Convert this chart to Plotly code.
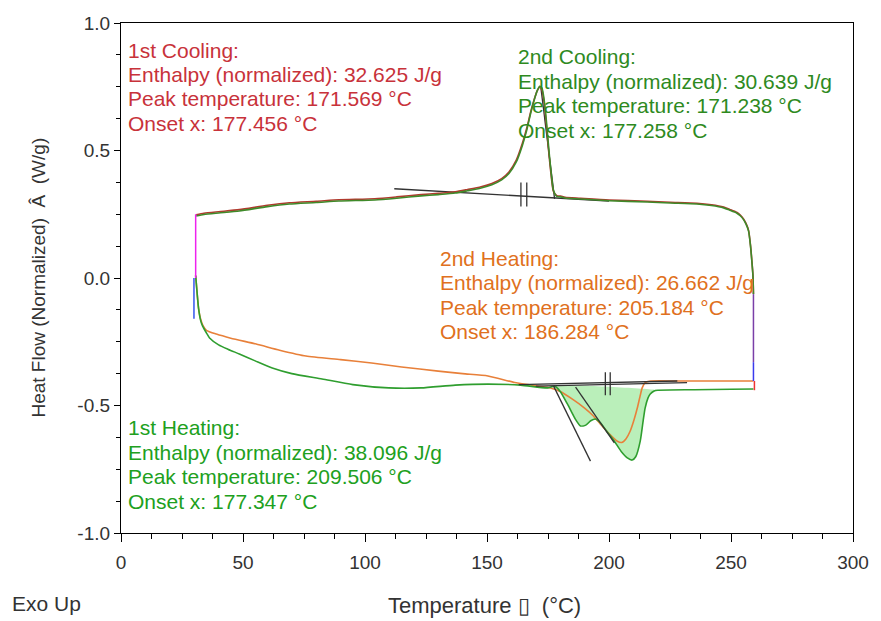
import plotly.graph_objects as go

# ---- DSC curves: temperature (°C) vs normalized heat flow (W/g) ----
cool_T = [259.2, 259.0, 258.6, 258.0, 257.2, 256.2, 255.2, 253.8, 252.3, 249.5, 247.0,
          242.0, 236.0, 225.0, 215.6, 200.0, 188.3, 182.0, 180.2, 178.6, 177.2, 176.2,
          175.2, 174.3, 173.4, 172.5, 171.6, 170.6, 169.4, 168.0, 166.3, 164.5, 162.0,
          159.0, 156.0, 152.0, 147.6, 142.0, 137.0, 130.0, 123.0, 113.0, 104.0, 89.3,
          80.0, 69.0, 60.0, 48.5, 40.0, 34.0, 30.8]
cool_2_hf = [-0.063, 0.008, 0.059, 0.125, 0.184, 0.210, 0.228, 0.244, 0.255, 0.266, 0.275,
             0.284, 0.290, 0.294, 0.298, 0.303, 0.310, 0.314, 0.318, 0.320, 0.345, 0.420,
             0.520, 0.620, 0.700, 0.745, 0.752, 0.735, 0.700, 0.650, 0.580, 0.520, 0.455,
             0.410, 0.385, 0.366, 0.353, 0.342, 0.333, 0.327, 0.322, 0.313, 0.306, 0.302,
             0.296, 0.290, 0.280, 0.263, 0.255, 0.249, 0.243]
cool_1_hf = [-0.063, 0.010, 0.062, 0.128, 0.187, 0.213, 0.231, 0.247, 0.258, 0.269, 0.278,
             0.287, 0.293, 0.297, 0.301, 0.306, 0.313, 0.317, 0.321, 0.323, 0.340, 0.410,
             0.505, 0.605, 0.690, 0.738, 0.748, 0.735, 0.702, 0.655, 0.588, 0.528, 0.462,
             0.416, 0.390, 0.371, 0.358, 0.347, 0.338, 0.332, 0.327, 0.318, 0.311, 0.307,
             0.301, 0.295, 0.285, 0.268, 0.260, 0.254, 0.248]

heat_1_T = [30.6, 31.2, 31.8, 32.6, 33.5, 35.0, 36.3, 40.0, 44.0, 48.5, 55.0, 62.0, 70.0,
            82.4, 95.0, 109.7, 123.0, 137.0, 150.4, 163.8, 174.8, 177.7, 180.0, 183.0,
            186.0, 188.3, 190.5, 192.5, 194.4, 196.5, 199.0, 202.2, 205.0, 207.5, 209.5,
            211.0, 212.8, 214.0, 214.8, 216.0, 216.9, 218.5, 220.0, 235.0, 250.0, 259.2]
heat_1_hf = [0.010, -0.060, -0.120, -0.165, -0.190, -0.215, -0.235, -0.262, -0.280, -0.298,
             -0.325, -0.353, -0.375, -0.396, -0.418, -0.431, -0.431, -0.420, -0.416, -0.420,
             -0.431, -0.424, -0.445, -0.495, -0.550, -0.580, -0.577, -0.560, -0.553, -0.568,
             -0.600, -0.640, -0.680, -0.705, -0.714, -0.700, -0.640, -0.560, -0.510, -0.470,
             -0.455, -0.443, -0.440, -0.438, -0.436, -0.435]

heat_2_T = [30.6, 31.2, 31.8, 32.6, 33.5, 35.0, 39.1, 45.0, 55.4, 65.0, 75.8, 90.0, 102.7,
            115.0, 130.0, 140.0, 150.4, 161.4, 170.8, 176.0, 180.0, 185.0, 190.0, 193.5,
            196.5, 200.0, 203.4, 205.2, 207.0, 208.7, 210.3, 211.6, 212.7, 213.6, 214.8,
            217.0, 230.0, 245.0, 259.2]
heat_2_hf = [0.010, -0.060, -0.120, -0.160, -0.185, -0.205, -0.220, -0.236, -0.259, -0.283,
             -0.306, -0.320, -0.333, -0.349, -0.365, -0.375, -0.384, -0.410, -0.424, -0.431,
             -0.445, -0.475, -0.510, -0.540, -0.573, -0.610, -0.640, -0.645, -0.630, -0.600,
             -0.555, -0.510, -0.465, -0.431, -0.410, -0.404, -0.404, -0.404, -0.404]

# isothermal segments at both ends of the temperature program
iso_low_T = [30.6, 30.6]
iso_low_hf = [0.250, 0.000]
iso_low2_T = [29.9, 29.9]
iso_low2_hf = [0.000, -0.160]
iso_high_T = [259.2, 259.2]
iso_high_hf = [-0.063, -0.330]
iso_high2_T = [259.2, 259.2]
iso_high2_hf = [-0.330, -0.404]
iso_high3_T = [259.6, 259.6]
iso_high3_hf = [-0.404, -0.440]

# integration baselines, onset tangents and limit markers
cool_base_T = [112.0, 200.0]
cool_base_hf = [0.350, 0.302]
cool_tan_T = [172.0, 177.7]
cool_tan_hf = [0.753, 0.310]
cool_mark1_T = [163.9, 163.9]
cool_mark2_T = [166.3, 166.3]
cool_mark_hf = [0.375, 0.280]

heat_base1_T = [163.0, 228.0]
heat_base1_hf = [-0.418, -0.404]
heat_base2_T = [170.0, 232.0]
heat_base2_hf = [-0.424, -0.410]
heat_tan1_T = [177.3, 192.4]
heat_tan1_hf = [-0.424, -0.718]
heat_tan2_T = [186.3, 202.2]
heat_tan2_hf = [-0.428, -0.647]
heat_mark1_T = [198.5, 198.5]
heat_mark2_T = [200.5, 200.5]
heat_mark_hf = [-0.370, -0.460]

# peak results
labels_1st_cooling = ["1st Cooling:", "Enthalpy (normalized): 32.625 J/g",
                      "Peak temperature: 171.569 °C", "Onset x: 177.456 °C"]
labels_2nd_cooling = ["2nd Cooling:", "Enthalpy (normalized): 30.639 J/g",
                      "Peak temperature: 171.238 °C", "Onset x: 177.258 °C"]
labels_2nd_heating = ["2nd Heating:", "Enthalpy (normalized): 26.662 J/g",
                      "Peak temperature: 205.184 °C", "Onset x: 186.284 °C"]
labels_1st_heating = ["1st Heating:", "Enthalpy (normalized): 38.096 J/g",
                      "Peak temperature: 209.506 °C", "Onset x: 177.347 °C"]

x_ticks = [0, 50, 100, 150, 200, 250, 300]
y_ticks = [-1.0, -0.5, 0.0, 0.5, 1.0]

FONT = "Liberation Sans, Arial, sans-serif"
C_HEAT1 = "#2f9e2f"
C_HEAT2 = "#e8803a"
C_COOL1 = "#b03a2e"
C_COOL2 = "#3f8a2a"
C_FILL = "rgba(130,225,130,0.55)"

fig = go.Figure()


def line(x, y, color, width=1.6):
    fig.add_trace(go.Scatter(x=x, y=y, mode="lines", hoverinfo="skip",
                             line=dict(color=color, width=width, shape="spline",
                                       smoothing=0.6)))


# shaded melting area of the 1st heating
i0 = heat_1_T.index(177.7)
i1 = heat_1_T.index(220.0)
fill_T = heat_1_T[i0:i1 + 1] + [heat_1_T[i0]]
fill_hf = heat_1_hf[i0:i1 + 1] + [heat_1_hf[i0]]
fig.add_trace(go.Scatter(x=fill_T, y=fill_hf, mode="lines", fill="toself",
                         fillcolor=C_FILL, line=dict(width=0, shape="spline", smoothing=0.6),
                         hoverinfo="skip"))

line(heat_2_T, heat_2_hf, C_HEAT2)
line(heat_1_T, heat_1_hf, C_HEAT1)

for xs, ys in [(heat_base1_T, heat_base1_hf), (heat_base2_T, heat_base2_hf),
               (heat_tan1_T, heat_tan1_hf), (heat_tan2_T, heat_tan2_hf),
               (heat_mark1_T, heat_mark_hf), (heat_mark2_T, heat_mark_hf),
               (cool_base_T, cool_base_hf), (cool_tan_T, cool_tan_hf),
               (cool_mark1_T, cool_mark_hf), (cool_mark2_T, cool_mark_hf)]:
    fig.add_trace(go.Scatter(x=xs, y=ys, mode="lines", hoverinfo="skip",
                             line=dict(color="#333333", width=1.3)))

line(cool_T, cool_1_hf, C_COOL1)
line(cool_T, cool_2_hf, C_COOL2)

for xs, ys, c in [(iso_low_T, iso_low_hf, "#ee22ee"), (iso_low2_T, iso_low2_hf, "#3355ee"),
                  (iso_high_T, iso_high_hf, "#7a3fa8"), (iso_high2_T, iso_high2_hf, "#3a3aee"),
                  (iso_high3_T, iso_high3_hf, "#ee3333")]:
    fig.add_trace(go.Scatter(x=xs, y=ys, mode="lines", hoverinfo="skip",
                             line=dict(color=c, width=1.5)))

annotations = []


def block(lines, x, y_top, color, step=0.096):
    for k, txt in enumerate(lines):
        annotations.append(dict(x=x, y=y_top - k * step, xref="x", yref="y", text=txt,
                                showarrow=False, xanchor="left", yanchor="middle",
                                font=dict(family=FONT, size=21, color=color)))


block(labels_1st_cooling, 2.0, 0.894, "#c8323a")
block(labels_2nd_cooling, 162.0, 0.867, "#2e8a1e")
block(labels_2nd_heating, 130.0, 0.078, "#e07020")
block(labels_1st_heating, 2.0, -0.588, "#20a020")

annotations.append(dict(x=-0.114, y=0.5, xref="paper", yref="paper",
                        text="Heat Flow (Normalized)  Â  (W/g)", textangle=-90,
                        showarrow=False, xanchor="center", yanchor="middle",
                        font=dict(family=FONT, size=19, color="#333333")))
annotations.append(dict(x=0.497, y=-0.142, xref="paper", yref="paper",
                        text="Temperature \u25af  (°C)", showarrow=False,
                        xanchor="center", yanchor="middle",
                        font=dict(family=FONT, size=22, color="#333333")))
annotations.append(dict(x=-0.151, y=-0.138, xref="paper", yref="paper",
                        text="Exo Up", showarrow=False, xanchor="left", yanchor="middle",
                        font=dict(family=FONT, size=21, color="#333333")))

axis_common = dict(showline=True, linecolor="black", linewidth=1.2, mirror=True,
                   showgrid=False, zeroline=False, ticks="outside",
                   tickcolor="black", tickwidth=1.2,
                   tickfont=dict(family=FONT, size=19, color="#333333"))

fig.update_layout(
    width=881, height=621,
    margin=dict(l=121, r=23, t=23, b=88),
    plot_bgcolor="white", paper_bgcolor="white",
    showlegend=False,
    annotations=annotations,
    xaxis=dict(range=[0, 300], tickvals=x_ticks, ticktext=[str(v) for v in x_ticks],
               ticklen=8,
               minor=dict(dtick=12.5, ticklen=5, tickcolor="black", ticks="outside"),
               ticklabelstandoff=4, **axis_common),
    yaxis=dict(range=[-1, 1], tickvals=y_ticks, ticktext=[f"{v:.1f}" for v in y_ticks],
               ticklen=6,
               minor=dict(dtick=0.125, ticklen=4, tickcolor="black", ticks="outside"),
               ticklabelstandoff=0, **axis_common),
)

fig.write_html("out.html")
